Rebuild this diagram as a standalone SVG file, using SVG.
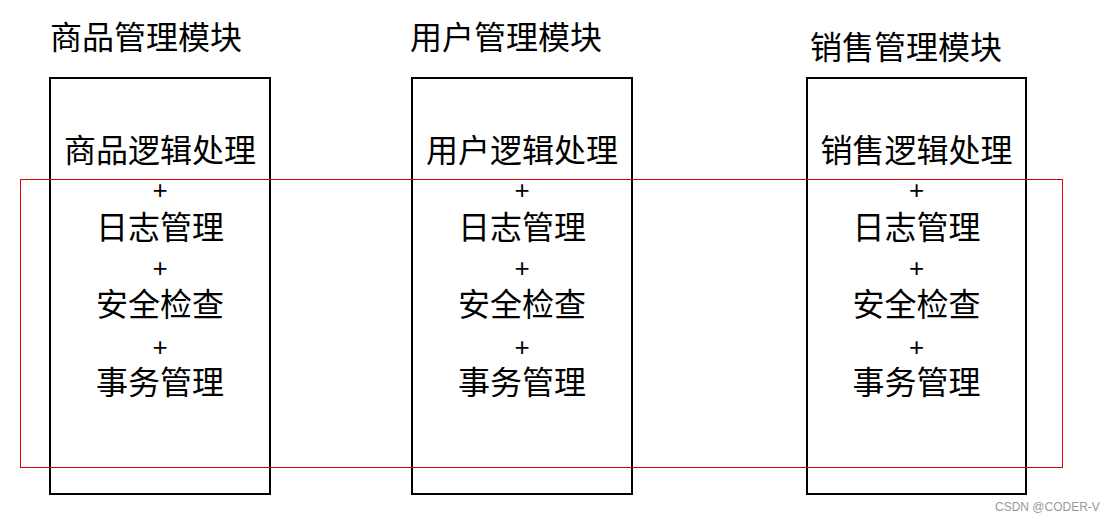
<svg xmlns="http://www.w3.org/2000/svg" width="1111" height="521" viewBox="0 0 1111 521">
<style>
.t{font-family:"Noto Sans CJK SC","Noto Sans",sans-serif;font-size:32px;fill:#000}
.c{font-family:"Noto Sans CJK SC","Noto Sans",sans-serif;font-size:32px;fill:#000;text-anchor:middle}
.p{font-family:"Liberation Sans",Arial,sans-serif;font-size:26px;fill:#000;text-anchor:middle}
.box{fill:none;stroke:#000;stroke-width:2}
.wm{font-family:"Liberation Sans",Arial,sans-serif;font-size:12px;fill:#999}
</style>
<rect width="1111" height="521" fill="#fff"/>
<g id="goods">
<text class="t" x="50" y="49">商品管理模块</text>
<rect class="box" x="50" y="78" width="220" height="416"/>
<text class="c" x="160" y="162">商品逻辑处理</text>
<text class="p" x="160" y="199">+</text>
<text class="c" x="160" y="239">日志管理</text>
<text class="p" x="160" y="277">+</text>
<text class="c" x="160" y="316">安全检查</text>
<text class="p" x="160" y="356">+</text>
<text class="c" x="160" y="394">事务管理</text>
</g>
<g id="user">
<text class="t" x="410" y="49">用户管理模块</text>
<rect class="box" x="412" y="78" width="220" height="416"/>
<text class="c" x="522" y="162">用户逻辑处理</text>
<text class="p" x="522" y="199">+</text>
<text class="c" x="522" y="239">日志管理</text>
<text class="p" x="522" y="277">+</text>
<text class="c" x="522" y="316">安全检查</text>
<text class="p" x="522" y="356">+</text>
<text class="c" x="522" y="394">事务管理</text>
</g>
<g id="sales">
<text class="t" x="810" y="59">销售管理模块</text>
<rect class="box" x="807" y="78" width="219" height="416"/>
<text class="c" x="916.5" y="162">销售逻辑处理</text>
<text class="p" x="916.5" y="199">+</text>
<text class="c" x="916.5" y="239">日志管理</text>
<text class="p" x="916.5" y="277">+</text>
<text class="c" x="916.5" y="316">安全检查</text>
<text class="p" x="916.5" y="356">+</text>
<text class="c" x="916.5" y="394">事务管理</text>
</g>
<g id="connectors">
<rect x="20.5" y="179.5" width="1042" height="288" fill="none" stroke="#e00000" stroke-width="1"/>
</g>
<text class="wm" x="995" y="511">CSDN @CODER-V</text>
</svg>
